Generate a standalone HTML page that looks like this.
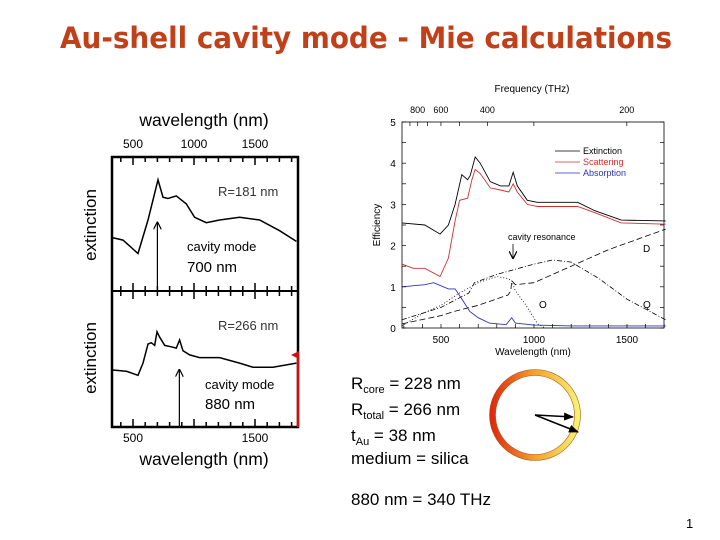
<!DOCTYPE html>
<html><head><meta charset="utf-8"><style>
body{margin:0;background:#fff;}
svg{display:block;font-family:"Liberation Sans",sans-serif;}
</style></head><body>
<svg id="s" width="720" height="540" viewBox="0 0 720 540">
<defs>
<linearGradient id="rg" x1="0" x2="1" y1="0" y2="0"><stop offset="0" stop-color="#e02a10"/><stop offset="0.5" stop-color="#f5a030"/><stop offset="1" stop-color="#f8f070"/></linearGradient>
<marker id="ah" markerWidth="8" markerHeight="8" refX="7" refY="4" orient="auto" markerUnits="userSpaceOnUse"><path d="M0,0 L8,4 L0,8" fill="none" stroke="#000" stroke-width="1.2"/></marker>
<marker id="ahf" markerWidth="10" markerHeight="8" refX="9" refY="4" orient="auto" markerUnits="userSpaceOnUse"><path d="M0,0 L10,4 L0,8 z" fill="#000"/></marker>
<marker id="ahr" markerWidth="8" markerHeight="8" refX="4" refY="7" orient="auto" markerUnits="userSpaceOnUse"><path d="M0,8 L4,0 L8,8 z" fill="#d01010"/></marker>
</defs>
<text x="60" y="48" font-family="DejaVu Sans, sans-serif" textLength="612" lengthAdjust="spacingAndGlyphs" font-size="29" font-weight="bold" fill="#c0401a">Au-shell cavity mode - Mie calculations</text>

<g id="left">
<text x="204" y="126" text-anchor="middle" font-size="17.5">wavelength (nm)</text>
<text x="204" y="465" text-anchor="middle" font-size="17.5">wavelength (nm)</text>
<text transform="translate(96,225) rotate(-90)" text-anchor="middle" font-size="17">extinction</text>
<text transform="translate(96,358) rotate(-90)" text-anchor="middle" font-size="17">extinction</text>
<rect x="112" y="157" width="186" height="270" fill="none" stroke="#000" stroke-width="2.5"/>
<line x1="112" y1="291" x2="298" y2="291" stroke="#000" stroke-width="2"/>
<text x="218" y="196" font-size="13" fill="#333">R=181 nm</text>
<text x="187" y="251" font-size="13">cavity mode</text>
<text x="187" y="272" font-size="15">700 nm</text>
<text x="218" y="330" font-size="13" fill="#333">R=266 nm</text>
<text x="205" y="389" font-size="13">cavity mode</text>
<text x="205" y="409" font-size="15">880 nm</text>
</g>
<g id="right">
<text x="532" y="92" text-anchor="middle" font-size="10">Frequency (THz)</text>
<text x="533" y="355" text-anchor="middle" font-size="10">Wavelength (nm)</text>
<text transform="translate(380,225) rotate(-90)" text-anchor="middle" font-size="10">Efficiency</text>
<rect x="402" y="122" width="262" height="206" fill="none" stroke="#000" stroke-width="0.8"/>
<line x1="555" y1="151" x2="580" y2="151" stroke="#000" stroke-width="0.8"/>
<line x1="555" y1="162" x2="580" y2="162" stroke="#d03030" stroke-width="0.8"/>
<line x1="555" y1="173" x2="580" y2="173" stroke="#3030c0" stroke-width="0.8"/>
<text x="583" y="154" font-size="9">Extinction</text>
<text x="583" y="165" font-size="9" fill="#d03030">Scattering</text>
<text x="583" y="176" font-size="9" fill="#3030c0">Absorption</text>
<text x="508" y="240" font-size="9">cavity resonance</text>
<line x1="513" y1="244" x2="513" y2="258" stroke="#000" stroke-width="0.8" marker-end="url(#ah)"/>
<text x="643" y="252" font-size="10">D</text>
<text x="539" y="308" font-size="10">O</text>
<text x="643" y="308" font-size="10">Q</text>
</g>
<g font-size="17">
<text x="351" y="389">R<tspan font-size="11" dy="4">core</tspan><tspan dy="-4"> = 228 nm</tspan></text>
<text x="351" y="415">R<tspan font-size="11" dy="4">total</tspan><tspan dy="-4"> = 266 nm</tspan></text>
<text x="351" y="441">t<tspan font-size="11" dy="4">Au</tspan><tspan dy="-4"> = 38 nm</tspan></text>
<text x="351" y="464">medium = silica</text>
<text x="351" y="505">880 nm = 340 THz</text>
<text x="686" y="528" font-size="13">1</text>
</g>
<g>
<circle cx="535" cy="415" r="42.5" fill="none" stroke="url(#rg)" stroke-width="6"/>
<circle cx="535" cy="415" r="45.5" fill="none" stroke="#a06020" stroke-width="0.6"/>
<circle cx="535" cy="415" r="39.5" fill="none" stroke="#a06020" stroke-width="0.6"/>
<line x1="535" y1="415" x2="573" y2="417" stroke="#000" stroke-width="1.5" marker-end="url(#ahf)"/>
<line x1="535" y1="415" x2="578" y2="432" stroke="#000" stroke-width="1.5" marker-end="url(#ahf)"/>
</g>
<line x1="298" y1="427" x2="298" y2="355" stroke="#d01010" stroke-width="2.5" marker-end="url(#ahr)"/>
</svg>
<script>
const topWl=[322,418,541,623,664,705,746,787,855,937,1005,1101,1210,1374,1538,1702,1839];
const topExt=[.40,.38,.28,.53,.68,.83,.70,.69,.71,.65,.55,.51,.53,.55,.53,.45,.37];
const botWl=[322,445,541,582,623,650,678,697,719,760,814,855,882,910,965,1046,1210,1374,1483,1647,1839];
const botExt=[.42,.41,.38,.47,.61,.62,.60,.70,.66,.60,.59,.58,.64,.56,.53,.51,.51,.47,.44,.44,.47];
const leftTicks=[500,1000,1500];
const topCavity=700, topCavityVal=.51, botCavity=880, botCavityVal=.42;
const wlExt=[290,413,495,540,576,612,643,657,684,711,765,820,865,888,910,964,1018,1144,1235,1325,1469,1708];
const valExt=[2.55,2.5,2.28,2.5,3.0,3.72,3.6,3.7,4.15,4.0,3.55,3.45,3.45,3.78,3.45,3.1,3.05,3.05,3.05,2.85,2.62,2.6];
const wlSca=[290,350,413,495,540,576,600,643,666,684,711,765,820,865,888,910,964,1018,1144,1235,1325,1469,1708];
const valSca=[1.55,1.45,1.45,1.25,1.7,2.6,3.1,3.15,3.6,3.85,3.75,3.4,3.35,3.3,3.5,3.3,3.0,2.95,2.95,2.95,2.8,2.55,2.52];
const wlAbs=[290,413,460,540,576,620,655,700,760,850,880,900,1000,1200,1708];
const valAbs=[1.0,1.05,1.1,0.95,0.95,0.65,0.4,0.25,0.12,0.08,0.25,0.12,0.07,0.05,0.05];
const wlD=[290,500,570,700,860,875,880,900,1000,1200,1400,1708];
const valD=[0.1,0.3,0.4,0.55,0.8,0.9,1.15,1.05,1.1,1.5,1.9,2.4];
const wlQ=[290,500,650,680,800,1000,1100,1200,1350,1500,1708];
const valQ=[0.2,0.5,0.85,1.1,1.3,1.55,1.65,1.6,1.2,0.7,0.2];
const wlO=[290,400,500,600,700,800,860,880,900,950,1020,1060];
const valO=[0.05,0.35,0.55,0.85,1.1,1.25,1.2,1.15,0.9,0.6,0.1,0.0];
const yTicks=[0,1,2,3,4,5];
const xTicks=[500,1000,1500];
const fTicks=[800,600,400,200];

const NS='http://www.w3.org/2000/svg';
const svg=document.getElementById('s');
function el(t,a,p){const e=document.createElementNS(NS,t);for(const k in a)e.setAttribute(k,a[k]);(p||svg).appendChild(e);return e;}
const L=document.getElementById('left'), R=document.getElementById('right');
const lx=w=>133+(w-500)*0.122;
const ty=v=>291-v*134, by=v=>427-v*136;
function poly(xs,ys,fx,fy,attrs,p){let d='';xs.forEach((x,i)=>{d+=(i?'L':'M')+fx(x).toFixed(1)+','+fy(ys[i]).toFixed(1);});return el('path',Object.assign({d:d,fill:'none'},attrs),p);}
let p=poly(topWl,topExt,lx,ty,{stroke:'#000','stroke-width':1.5},L);


p=poly(botWl,botExt,lx,by,{stroke:'#000','stroke-width':1.5},L);


let a=el('line',{x1:lx(topCavity),y1:291,x2:lx(topCavity),y2:ty(topCavityVal),stroke:'#000','stroke-width':1.2,'marker-end':'url(#ah)'},L);


a=el('line',{x1:lx(botCavity),y1:427,x2:lx(botCavity),y2:by(botCavityVal),stroke:'#000','stroke-width':1.2,'marker-end':'url(#ah)'},L);


for(let w=400;w<=1800;w+=100){const x=lx(w);const len=(w%500==0)?8:5;
 [[157,1],[291,-1],[291,1],[427,-1]].forEach(([y0,s])=>el('line',{x1:x,y1:y0,x2:x,y2:y0+s*len,stroke:'#000','stroke-width':1.5},L));}
leftTicks.forEach(w=>{let t=el('text',{x:lx(w),y:148,'text-anchor':'middle','font-size':12},L);t.textContent=w;


if(w!=1000){t=el('text',{x:lx(w),y:442,'text-anchor':'middle','font-size':12},L);t.textContent=w;

}});
const rx=w=>441+(w-500)*0.186;
const ry=v=>328-v*41.2;
p=poly(wlO,valO,rx,ry,{stroke:'#000','stroke-width':0.8,'stroke-dasharray':'1,2'},R);


p=poly(wlQ,valQ,rx,ry,{stroke:'#000','stroke-width':0.8,'stroke-dasharray':'5,2,1,2'},R);


p=poly(wlD,valD,rx,ry,{stroke:'#000','stroke-width':0.8,'stroke-dasharray':'6,3'},R);


p=poly(wlAbs,valAbs,rx,ry,{stroke:'#3030c0','stroke-width':0.9},R);


p=poly(wlSca,valSca,rx,ry,{stroke:'#d03030','stroke-width':0.9},R);


p=poly(wlExt,valExt,rx,ry,{stroke:'#000','stroke-width':0.9},R);


yTicks.forEach(v=>{let t=el('text',{x:393,y:ry(v)+4,'text-anchor':'middle','font-size':10},R);t.textContent=v;

});
for(let v=0;v<=5;v+=0.5){const y=ry(v);el('line',{x1:402,y1:y,x2:406,y2:y,stroke:'#000','stroke-width':0.7},R);el('line',{x1:664,y1:y,x2:660,y2:y,stroke:'#000','stroke-width':0.7},R);}
for(let w=300;w<=1700;w+=100){const x=rx(w);el('line',{x1:x,y1:328,x2:x,y2:324,stroke:'#000','stroke-width':0.7},R);}
xTicks.forEach(w=>{let t=el('text',{x:rx(w),y:343,'text-anchor':'middle','font-size':10},R);t.textContent=w;

});
for(let f=900;f>=200;f-=100){const x=rx(299792/f);el('line',{x1:x,y1:122,x2:x,y2:126,stroke:'#000','stroke-width':0.7},R);}
fTicks.forEach(f=>{let t=el('text',{x:rx(299792/f),y:113,'text-anchor':'middle','font-size':9},R);t.textContent=f;

});
</script>
</body></html>
